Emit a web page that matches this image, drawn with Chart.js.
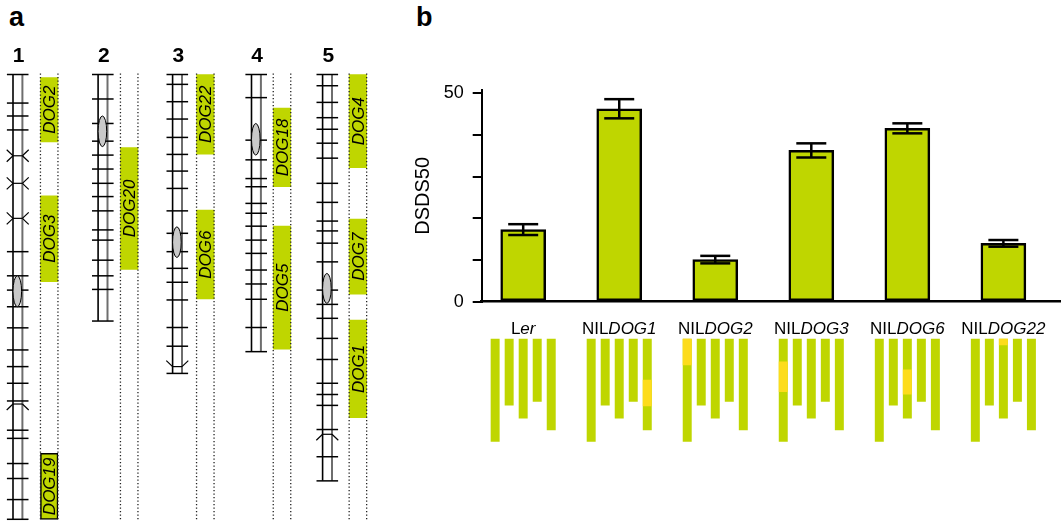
<!DOCTYPE html>
<html lang="en">
<head>
<meta charset="UTF-8" />
<title>DOG QTL map and NIL dormancy</title>
<script src="https://cdn.jsdelivr.net/npm/chart.js"></script>
<style>
  body { margin: 0; background: #fff; }
  #wrap { position: relative; width: 1061px; height: 521px; overflow: hidden; font-family: "Liberation Sans", Arial, sans-serif; }
  canvas { position: absolute; left: 0; top: 0; }
  .panel { position: absolute; font-weight: bold; font-size: 27px; line-height: 1; color: #000; }
</style>
</head>
<body>
<div id="wrap">
  <div class="panel" style="left:9px; top:4px">a</div>
  <div class="panel" style="left:416px; top:4px">b</div>
  <canvas id="mapChart" width="400" height="521"></canvas>
  <canvas id="barChart" width="1061" height="521"></canvas>
  <canvas id="genoChart" width="1061" height="521"></canvas>
</div>

<script>
  Chart.defaults.font.family = '"Liberation Sans", Arial, Helvetica, sans-serif';
  Chart.defaults.color = '#000';
  const FONT = '"Liberation Sans", Arial, sans-serif';
  const GREEN = '#bfd600';
  const YELLOW = '#fddc1c';

  // ---- panel a: genetic map (cM) ----
  const chromNames = ['1', '2', '3', '4', '5'];
  const chromLenCM = [130.8, 72.5, 87.9, 81.5, 119.5];
  const cenStart = [59.2, 12.2, 44.8, 14.4, 58.5];
  const cenEnd = [68.3, 21.2, 53.8, 23.7, 67.3];
  const ticksChr1 = [0, 8.4, 12.2, 16.3, 52.1, 59.2, 63.4, 68.3, 74.5, 81.0, 85.9, 90.8, 96.0, 104.6, 107.0, 114.4, 118.8, 125.0, 130.8];
  const ticksChr2 = [0, 7.2, 14.4, 19.6, 23.7, 27.8, 32.0, 35.9, 40.1, 45.7, 48.7, 54.6, 59.2, 63.2, 72.5];
  const ticksChr3 = [0, 2.9, 8.0, 13.1, 18.5, 23.5, 28.4, 33.5, 40.1, 46.7, 52.1, 57.0, 61.1, 66.3, 74.4, 79.9, 87.9];
  const ticksChr4 = [0, 6.8, 19.3, 25.1, 30.6, 33.0, 37.9, 40.8, 44.6, 48.7, 52.6, 57.5, 61.6, 66.1, 74.4, 81.5];
  const ticksChr5 = [0, 3.3, 8.2, 12.7, 16.1, 20.2, 24.6, 32.0, 37.6, 43.1, 46.0, 49.6, 55.1, 63.4, 67.6, 71.7, 77.6, 83.8, 90.8, 94.1, 97.3, 104.4, 112.4, 119.5];
  const mapTicks = [ticksChr1, ticksChr2, ticksChr3, ticksChr4, ticksChr5];
  const breakChr = [1, 1, 1, 1, 3, 5];
  const breakPos = [23.9, 32.0, 42.3, 96.9, 85.9, 105.8];
  const breakType = ['x', 'x', 'x', '^', 'v', '^'];

  const dogNames = ['DOG2', 'DOG3', 'DOG19', 'DOG20', 'DOG22', 'DOG6', 'DOG18', 'DOG5', 'DOG4', 'DOG7', 'DOG1'];
  const dogChr = [1, 1, 1, 2, 3, 3, 4, 4, 5, 5, 5];
  const dogStart = [0.9, 35.7, 111.4, 21.5, 0, 39.9, 9.9, 44.6, 0, 42.5, 72.2];
  const dogEnd = [19.8, 60.9, 130.8, 57.3, 23.4, 66.0, 33.0, 80.8, 27.4, 64.6, 100.9];

  // ---- panel b: DSDS50 and NIL genotypes (Mb) ----
  const lineRoman = ['L', 'NIL', 'NIL', 'NIL', 'NIL', 'NIL'];
  const lineItalic = ['er', 'DOG1', 'DOG2', 'DOG3', 'DOG6', 'DOG22'];
  const dsds50 = [17.3, 46.3, 10.1, 36.3, 41.6, 14.0];
  const dsds50Err = [1.3, 2.3, 0.9, 1.7, 1.2, 0.8];
  const yTicks = [0, 10, 20, 30, 40, 50];
  const chrLenMb = [30.4, 19.7, 23.5, 18.6, 27.0];
  const introChr = [0, 5, 1, 1, 3, 3];
  const introStart = [0, 12.1, 0, 6.8, 9.1, 0];
  const introEnd = [0, 19.9, 7.9, 15.7, 16.5, 2.0];

  // layout (px) for the map columns
  const chromX = [17.7, 102.8, 177.3, 256.2, 327.3];
  const dogX = [49.2, 129.2, 205.3, 282, 357.9];
  const dogW = 17.5;
  const chromHalf = 4.7;

  function seg(ctx, x1, y1, x2, y2) {
    ctx.beginPath(); ctx.moveTo(x1, y1); ctx.lineTo(x2, y2); ctx.stroke();
  }

  const mapDecor = {
    id: 'mapDecor',
    beforeDatasetsDraw(chart) {
      const { ctx, scales: { x, y } } = chart;
      ctx.save();
      chromLenCM.forEach((len, c) => {
        const cx = x.getPixelForValue(chromX[c]);
        const y0 = y.getPixelForValue(0), y1 = y.getPixelForValue(len);
        ctx.strokeStyle = '#000'; ctx.lineWidth = 1.6;
        seg(ctx, cx - chromHalf, y0, cx - chromHalf, y1);
        ctx.strokeStyle = '#6e6e6e'; ctx.lineWidth = 2;
        seg(ctx, cx + chromHalf, y0, cx + chromHalf, y1);
      });
      ctx.restore();
    },
    afterDatasetsDraw(chart) {
      const { ctx, scales: { x, y }, chartArea } = chart;
      ctx.save();
      // dotted QTL columns
      ctx.strokeStyle = '#222'; ctx.lineWidth = 1.3; ctx.setLineDash([1.3, 2.2]);
      dogX.forEach(dx => {
        const px = x.getPixelForValue(dx);
        [px - dogW / 2, px + dogW / 2].forEach(lx => seg(ctx, lx, y.getPixelForValue(0) - 1, lx, chartArea.bottom));
      });
      ctx.setLineDash([]);
      // break symbols
      ctx.strokeStyle = '#000'; ctx.lineWidth = 1.2;
      breakPos.forEach((p, i) => {
        const cx = x.getPixelForValue(chromX[breakChr[i] - 1]);
        const py = y.getPixelForValue(p);
        seg(ctx, cx - chromHalf, py, cx + chromHalf, py);
        if (breakType[i] !== '^') {
          seg(ctx, cx - chromHalf, py, cx - 11, py - 6);
          seg(ctx, cx + chromHalf, py, cx + 11, py - 6);
        }
        if (breakType[i] !== 'v') {
          seg(ctx, cx - chromHalf, py, cx - 11, py + 6);
          seg(ctx, cx + chromHalf, py, cx + 11, py + 6);
        }
      });
      // centromeres
      cenStart.forEach((s, c) => {
        const cx = x.getPixelForValue(chromX[c]) - 0.4;
        const ya = y.getPixelForValue(s), yb = y.getPixelForValue(cenEnd[c]);
        ctx.beginPath();
        ctx.ellipse(cx, (ya + yb) / 2, 4.3, (yb - ya) / 2, 0, 0, Math.PI * 2);
        ctx.fillStyle = '#c9c9c9'; ctx.fill();
        ctx.strokeStyle = '#000'; ctx.lineWidth = 1; ctx.stroke();
      });
      // QTL names
      ctx.fillStyle = '#000';
      ctx.font = 'italic 17px ' + FONT;
      ctx.textAlign = 'center'; ctx.textBaseline = 'alphabetic';
      dogNames.forEach((n, i) => {
        const cx = x.getPixelForValue(dogX[dogChr[i] - 1]);
        const cy = (y.getPixelForValue(dogStart[i]) + y.getPixelForValue(dogEnd[i])) / 2;
        ctx.save();
        ctx.translate(cx, cy); ctx.rotate(-Math.PI / 2);
        ctx.fillText(n, 0, 6);
        ctx.restore();
      });
      // chromosome numbers
      ctx.font = 'bold 21px ' + FONT;
      chromNames.forEach((n, c) => ctx.fillText(n, x.getPixelForValue(chromX[c]) + 1, 62));
      ctx.restore();
    }
  };

  new Chart(document.getElementById('mapChart'), {
    type: 'bar',
    data: {
      datasets: [
        {
          type: 'scatter',
          data: mapTicks.flatMap((arr, c) => arr.map(v => ({ x: chromX[c], y: v }))),
          pointStyle: 'line', pointRadius: 10.8, pointHoverRadius: 10.8,
          borderColor: '#000', borderWidth: 1.5, pointBorderWidth: 1.5,
          clip: false,
          order: 0
        },
        {
          data: dogNames.map((n, i) => ({ x: dogX[dogChr[i] - 1], y: [dogStart[i], dogEnd[i]] })),
          backgroundColor: GREEN,
          borderColor: '#000',
          borderWidth: ctx => dogNames[ctx.dataIndex] === 'DOG19' ? 1.5 : 0,
          borderSkipped: false,
          barThickness: dogW,
          order: 1
        }
      ]
    },
    options: {
      responsive: false, animation: false, events: [],
      layout: { autoPadding: false, padding: { top: 67.7, left: 0, right: 0, bottom: 0 } },
      plugins: { legend: { display: false }, tooltip: { enabled: false } },
      scales: {
        x: { type: 'linear', min: 0, max: 400, display: false, offset: false, grid: { offset: false } },
        y: { type: 'linear', min: -2, max: 131.3, reverse: true, display: false }
      }
    },
    plugins: [mapDecor]
  });

  // ---- panel b: bars with error bars ----
  const errorBars = {
    id: 'errorBars',
    afterDatasetsDraw(chart) {
      const { ctx, scales: { x, y } } = chart;
      ctx.save();
      ctx.strokeStyle = '#000'; ctx.lineWidth = 2.5;
      dsds50.forEach((v, i) => {
        const px = x.getPixelForValue(i);
        const top = y.getPixelForValue(v + dsds50Err[i]);
        const bot = y.getPixelForValue(v - dsds50Err[i]);
        seg(ctx, px, top, px, bot);
        seg(ctx, px - 15, top, px + 15, top);
        seg(ctx, px - 15, bot, px + 15, bot);
      });
      ctx.restore();
    },
    afterDraw(chart) {
      const { ctx, scales: { x } } = chart;
      ctx.save();
      ctx.fillStyle = '#000'; ctx.textBaseline = 'alphabetic'; ctx.textAlign = 'left';
      lineRoman.forEach((r, i) => {
        const px = x.getPixelForValue(i);
        ctx.font = '17px ' + FONT;
        const w1 = ctx.measureText(r).width;
        ctx.font = 'italic 17px ' + FONT;
        const w2 = ctx.measureText(lineItalic[i]).width;
        const start = px - (w1 + w2) / 2;
        ctx.font = '17px ' + FONT;
        ctx.fillText(r, start, 333.5);
        ctx.font = 'italic 17px ' + FONT;
        ctx.fillText(lineItalic[i], start + w1, 333.5);
      });
      ctx.restore();
    }
  };

  const lineTicks = axis => { axis.ticks = lineItalic.map((_, i) => ({ value: i })); };

  new Chart(document.getElementById('barChart'), {
    type: 'bar',
    data: {
      datasets: [{
        data: dsds50.map((v, i) => ({ x: i, y: v })),
        backgroundColor: GREEN,
        borderColor: '#000',
        borderWidth: 2.5,
        borderSkipped: false,
        barThickness: 45
      }]
    },
    options: {
      responsive: false, animation: false, events: [],
      layout: { autoPadding: false, padding: { left: 411.6, top: 90, right: 0, bottom: 0 } },
      plugins: { legend: { display: false }, tooltip: { enabled: false } },
      scales: {
        x: {
          type: 'linear', min: -0.432, max: 5.6, offset: false,
          afterBuildTicks: lineTicks,
          grid: { display: false, offset: false },
          ticks: { display: false },
          border: { color: '#000', width: 2.5 },
          afterFit: a => { a.height = 521 - 301.7; }
        },
        y: {
          min: 0, max: 50.8,
          afterBuildTicks: a => { a.ticks = yTicks.map(v => ({ value: v })); },
          ticks: { callback: v => (v === 0 || v === 50) ? String(v) : '', font: { size: 18 }, color: '#000', padding: 9 },
          grid: { drawOnChartArea: false, tickLength: 9, color: '#000', lineWidth: 2 },
          border: { color: '#000', width: 2 },
          title: { display: true, text: 'DSDS50', font: { size: 20 }, color: '#000', padding: 0 },
          afterFit: a => { a.width = 70.1; }
        }
      }
    },
    plugins: [errorBars]
  });

  // ---- panel b: NIL genotypes ----
  const genoSets = [];
  chrLenMb.forEach((len, c) => {
    genoSets.push({
      data: lineItalic.map((_, i) => ({ x: i, y: [0, len] })),
      backgroundColor: GREEN, stack: 'chr' + (c + 1), order: 1
    });
    genoSets.push({
      data: lineItalic.map((_, i) => ({ x: i, y: introChr[i] === c + 1 ? [introStart[i], introEnd[i]] : null })),
      backgroundColor: YELLOW, stack: 'chr' + (c + 1), order: 0
    });
  });

  new Chart(document.getElementById('genoChart'), {
    type: 'bar',
    data: { datasets: genoSets },
    options: {
      responsive: false, animation: false, events: [],
      categoryPercentage: 0.73, barPercentage: 0.64,
      layout: { autoPadding: false, padding: { left: 481.7, top: 338.5, right: 0, bottom: 77.1 } },
      plugins: { legend: { display: false }, tooltip: { enabled: false } },
      scales: {
        x: { type: 'linear', min: -0.432, max: 5.6, offset: false, stacked: true, display: false, afterBuildTicks: lineTicks, grid: { offset: false } },
        y: { min: 0, max: 31, reverse: true, stacked: false, display: false }
      }
    }
  });
</script>
</body>
</html>
